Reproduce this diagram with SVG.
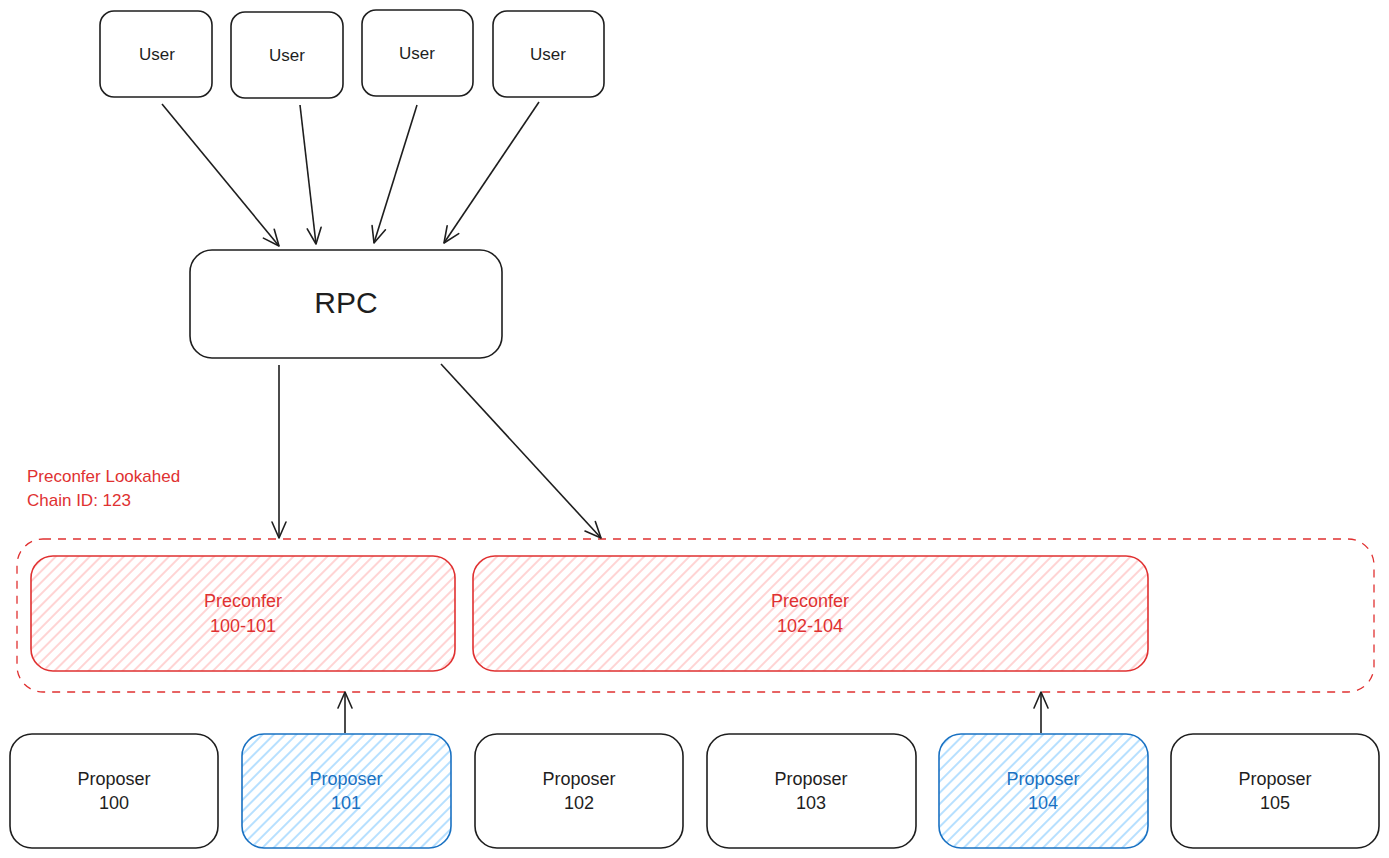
<svg xmlns="http://www.w3.org/2000/svg" width="1389" height="858" viewBox="0 0 1389 858">
<defs>
<pattern id="hRed" width="8" height="8" patternUnits="userSpaceOnUse" patternTransform="rotate(45)">
<line x1="1" y1="0" x2="1" y2="8" stroke="#ffc9c9" stroke-width="1.6"/>
</pattern>
<pattern id="hBlue" width="8" height="8" patternUnits="userSpaceOnUse" patternTransform="rotate(45)">
<line x1="1" y1="0" x2="1" y2="8" stroke="#a5d8ff" stroke-width="1.6"/>
</pattern>
<marker id="arr" viewBox="0 0 20 20" refX="18" refY="10" markerWidth="20" markerHeight="20" markerUnits="userSpaceOnUse" orient="auto">
<path d="M2 3 L18 10 L2 17" fill="none" stroke="#1e1e1e" stroke-width="1.6" stroke-linecap="round" stroke-linejoin="round"/>
</marker>
</defs>
<style>
.box{fill:#ffffff;stroke:#1e1e1e;stroke-width:1.6}
.red{fill:url(#hRed);stroke:#e03131;stroke-width:1.6}
.blue{fill:url(#hBlue);stroke:#1971c2;stroke-width:1.6}
.t{font-family:"Liberation Sans",Arial,sans-serif;font-size:18px;fill:#1e1e1e;text-anchor:middle}
.tr{fill:#e03131}
.tb{fill:#1971c2}
.conn line{stroke:#1e1e1e;stroke-width:1.6;marker-end:url(#arr)}
</style>
<rect width="1389" height="858" fill="#ffffff"/>

<g id="user1"><rect class="box" x="100" y="11" width="112" height="86" rx="14"/><text class="t" x="157" y="60" style="font-size:17px">User</text></g>
<g id="user2"><rect class="box" x="231" y="12" width="112" height="86" rx="14"/><text class="t" x="287" y="61" style="font-size:17px">User</text></g>
<g id="user3"><rect class="box" x="362" y="10" width="111" height="86" rx="14"/><text class="t" x="417" y="59" style="font-size:17px">User</text></g>
<g id="user4"><rect class="box" x="493" y="11" width="111" height="86" rx="14"/><text class="t" x="548" y="60" style="font-size:17px">User</text></g>

<g id="rpc"><rect class="box" x="190" y="250" width="312" height="108" rx="22"/><text class="t" x="346" y="313" style="font-size:30px">RPC</text></g>

<g id="lookahead">
<rect x="17" y="539" width="1357" height="153" rx="26" fill="none" stroke="#e03131" stroke-width="1.3" stroke-dasharray="8 7"/>
<text class="t tr" x="27" y="482" style="text-anchor:start;font-size:17px">Preconfer Lookahed</text>
<text class="t tr" x="27" y="506" style="text-anchor:start;font-size:17px">Chain ID: 123</text>
</g>

<g id="preconfer1"><rect class="red" x="31" y="556" width="424" height="115" rx="22"/><text class="t tr" x="243" y="607">Preconfer</text><text class="t tr" x="243" y="632">100-101</text></g>
<g id="preconfer2"><rect class="red" x="473" y="556" width="675" height="115" rx="22"/><text class="t tr" x="810" y="607">Preconfer</text><text class="t tr" x="810" y="632">102-104</text></g>

<g id="proposer100"><rect class="box" x="10" y="734" width="208" height="114" rx="22"/><text class="t" x="114" y="785">Proposer</text><text class="t" x="114" y="809">100</text></g>
<g id="proposer101"><rect class="blue" x="242" y="734" width="209" height="114" rx="22"/><text class="t tb" x="346" y="785">Proposer</text><text class="t tb" x="346" y="809">101</text></g>
<g id="proposer102"><rect class="box" x="475" y="734" width="208" height="114" rx="22"/><text class="t" x="579" y="785">Proposer</text><text class="t" x="579" y="809">102</text></g>
<g id="proposer103"><rect class="box" x="707" y="734" width="209" height="114" rx="22"/><text class="t" x="811" y="785">Proposer</text><text class="t" x="811" y="809">103</text></g>
<g id="proposer104"><rect class="blue" x="939" y="734" width="209" height="114" rx="22"/><text class="t tb" x="1043" y="785">Proposer</text><text class="t tb" x="1043" y="809">104</text></g>
<g id="proposer105"><rect class="box" x="1171" y="734" width="208" height="114" rx="22"/><text class="t" x="1275" y="785">Proposer</text><text class="t" x="1275" y="809">105</text></g>

<g id="connectors" class="conn">
<line x1="162" y1="104" x2="279" y2="246"/>
<line x1="300" y1="105" x2="316" y2="244"/>
<line x1="417" y1="105" x2="374" y2="243"/>
<line x1="539" y1="102" x2="444" y2="243"/>
<line x1="279" y1="365" x2="279" y2="538"/>
<line x1="441" y1="364" x2="601" y2="538"/>
<line x1="345" y1="733" x2="345" y2="692"/>
<line x1="1041" y1="733" x2="1041" y2="692"/>
</g>
</svg>
